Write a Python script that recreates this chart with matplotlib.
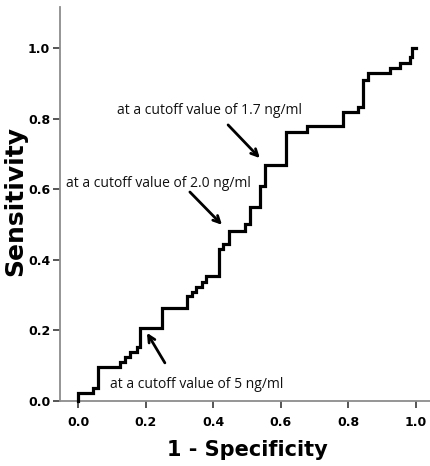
import matplotlib
matplotlib.use("Agg")
import matplotlib.pyplot as plt

# ROC curve corners (1 - specificity, sensitivity) after each rise
fpr = [0.0, 0.0, 0.043, 0.058, 0.124, 0.139, 0.154, 0.174, 0.183, 0.248,
       0.321, 0.336, 0.349, 0.366, 0.380, 0.418, 0.430, 0.448, 0.494, 0.509,
       0.538, 0.553, 0.615, 0.677, 0.785, 0.829, 0.844, 0.859, 0.923, 0.953,
       0.982, 0.988, 1.0]
tpr = [0.0, 0.023, 0.037, 0.097, 0.111, 0.126, 0.140, 0.154, 0.206, 0.263,
       0.297, 0.310, 0.324, 0.338, 0.354, 0.430, 0.445, 0.482, 0.500, 0.550,
       0.610, 0.669, 0.763, 0.780, 0.820, 0.834, 0.909, 0.928, 0.942, 0.956,
       0.975, 1.0, 1.0]

ticks = [0.0, 0.2, 0.4, 0.6, 0.8, 1.0]
tick_labels = ["0.0", "0.2", "0.4", "0.6", "0.8", "1.0"]

cutoff_notes = [
    "at a cutoff value of 1.7 ng/ml",
    "at a cutoff value of 2.0 ng/ml",
    "at a cutoff value of 5 ng/ml",
]

W, H = 430, 466
fig = plt.figure(figsize=(W / 100, H / 100), dpi=100)
ax = fig.add_axes([60 / W, 65 / H, 370 / W, 394 / H])

ax.plot(fpr, tpr, drawstyle="steps-post", color="black", lw=2.3,
        solid_joinstyle="miter", clip_on=False, zorder=3)

ax.set_xlim(-0.0533, 1.0414)
ax.set_ylim(0.0, 1.116)

for side in ("top", "right"):
    ax.spines[side].set_visible(False)
for side in ("left", "bottom"):
    ax.spines[side].set_color("#8c8c8c")
    ax.spines[side].set_linewidth(1.3)

ax.set_xticks(ticks)
ax.set_xticklabels(tick_labels)
ax.set_yticks(ticks)
ax.set_yticklabels(tick_labels)
ax.tick_params(axis="both", direction="out", length=5, width=1.4,
               color="#555555", labelsize=9)
ax.tick_params(axis="x", pad=6)
ax.tick_params(axis="y", pad=2)
for lab in ax.get_xticklabels() + ax.get_yticklabels():
    lab.set_fontfamily("DejaVu Sans")
    lab.set_fontweight("heavy")
    lab.set_color("black")

fig.text(247 / W, 1 - 450 / H, "1 - Specificity", ha="center", va="center",
         fontsize=15, fontweight="heavy", family="DejaVu Sans")
fig.text(15 / W, 1 - 201 / H, "Sensitivity", ha="center", va="center",
         rotation=90, fontsize=18, fontweight="heavy", family="DejaVu Sans")

arrow = dict(arrowstyle="->", color="black", lw=2.0, mutation_scale=12,
             shrinkA=0, shrinkB=0)
note_font = dict(fontsize=10, family="Open Sans", color="#111111")

ax.annotate("", xy=(0.538, 0.688), xytext=(0.444, 0.782), arrowprops=arrow)
ax.annotate("", xy=(0.426, 0.499), xytext=(0.331, 0.592), arrowprops=arrow)
ax.annotate("", xy=(0.204, 0.193), xytext=(0.257, 0.108), arrowprops=arrow)

ax.text(0.388, 0.824, cutoff_notes[0], ha="center", va="center", **note_font)
ax.text(0.238, 0.615, cutoff_notes[1], ha="center", va="center", **note_font)
ax.text(0.352, 0.048, cutoff_notes[2], ha="center", va="center", **note_font)

fig.savefig("out.png", dpi=100)
